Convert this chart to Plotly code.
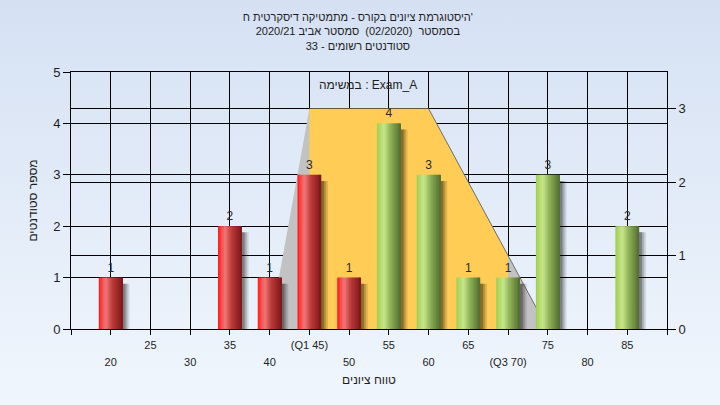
import base64
import plotly.graph_objects as go

# ---------------- data ----------------
categories = [20, 25, 30, 35, 40, 45, 50, 55, 60, 65, 70, 75, 80, 85]
counts = [1, 0, 0, 2, 1, 3, 1, 4, 3, 1, 1, 3, 0, 2]
tick_labels = ["20", "25", "30", "35", "40", "(Q1 45)", "50", "55", "60", "65",
               "(Q3 70)", "75", "80", "85"]
q1, q3 = 45, 70
pass_from = 55
dist_x = [40, 45, 50, 55, 60, 65, 70, 75]
dist_y = [0, 3, 3, 3, 3, 2, 1, 0]

title_lines = [
    "היסטוגרמת ציונים בקורס - מתמטיקה דיסקרטית ח'",
    "בסמסטר  (02/2020)  סמסטר אביב 2020/21",
    "סטודנטים רשומים - 33",
]
task_label = "במשימה : Exam_A"
x_title = "טווח ציונים"
y_title = "מספר סטודנטים"

FONT = "Arial, Liberation Sans, DejaVu Sans, sans-serif"
TXT = "#1e1e1e"

# ---------------- helpers ----------------
def interp(stops, t):
    for (t0, c0), (t1, c1) in zip(stops[:-1], stops[1:]):
        if t0 <= t <= t1:
            f = (t - t0) / (t1 - t0) if t1 > t0 else 0
            c = [round(a + (b - a) * f) for a, b in zip(c0, c1)]
            return "rgb(%d,%d,%d)" % tuple(c)
    c = stops[-1][1]
    return "rgb(%d,%d,%d)" % tuple(c)

red_stops = [(0.0, (255, 20, 20)), (0.12, (250, 70, 70)), (0.3, (238, 120, 120)),
             (0.55, (190, 60, 60)), (1.0, (125, 22, 22))]
green_stops = [(0.0, (160, 205, 80)), (0.12, (178, 216, 105)), (0.3, (200, 230, 140)),
               (0.55, (145, 180, 90)), (1.0, (82, 108, 48))]

nz = [(c, v) for c, v in zip(categories, counts) if v > 0]
bx = [c for c, _ in nz]
by = [v for _, v in nz]

fig = go.Figure()

# distribution area (right axis, base subplot)
fig.add_trace(go.Scatter(x=dist_x, y=dist_y, mode="lines", line=dict(width=0, color="rgba(0,0,0,0)"),
                         fill="tozeroy", fillcolor="#c2c2c2", hoverinfo="skip", showlegend=False))
iq = [(x, y) for x, y in zip(dist_x, dist_y) if q1 <= x <= q3]
fig.add_trace(go.Scatter(x=[p[0] for p in iq], y=[p[1] for p in iq], mode="lines",
                         line=dict(width=0, color="rgba(0,0,0,0)"),
                         fill="tozeroy", fillcolor="#ffcc55", hoverinfo="skip", showlegend=False))
peak = max(dist_y)
last_peak = max(x for x, y in zip(dist_x, dist_y) if y == peak)
desc = [(x, y) for x, y in zip(dist_x, dist_y) if x >= last_peak]
fig.add_trace(go.Scatter(x=[p[0] for p in desc], y=[p[1] for p in desc], mode="lines",
                         line=dict(width=1, color="#6e6e6e"), hoverinfo="skip", showlegend=False))

# bars (left axis, overlay subplot)
W = 3.0
for d, a in [(0.85, 0.12), (0.6, 0.18), (0.35, 0.26)]:
    fig.add_trace(go.Bar(x=bx, y=[v - 0.12 for v in by], width=W, offset=-W / 2 + d,
                         marker=dict(color="rgba(0,0,0,%.2f)" % a, line=dict(width=0)),
                         yaxis="y2", hoverinfo="skip", showlegend=False))
N = 16
for k in range(N):
    t = (k + 0.5) / N
    cols = [interp(red_stops, t) if c < pass_from else interp(green_stops, t) for c in bx]
    w = W / N * (1.6 if k < N - 1 else 1.0)
    fig.add_trace(go.Bar(x=bx, y=by, width=w, offset=-W / 2 + k * W / N,
                         marker=dict(color=cols, line=dict(width=0)),
                         yaxis="y2", hoverinfo="skip", showlegend=False))

fig.add_trace(go.Scatter(x=bx, y=[v + 0.06 for v in by], mode="text", text=[str(v) for v in by],
                         textposition="top center", textfont=dict(size=12, color="#2a2a2a", family=FONT),
                         yaxis="y2", hoverinfo="skip", showlegend=False))

# lower tick-label row on a helper axis
fig.add_trace(go.Scatter(x=[categories[0]], y=[0], mode="markers", marker=dict(opacity=0),
                         xaxis="x2", yaxis="y2", hoverinfo="skip", showlegend=False))

# ---------------- background ----------------
svg = ('<svg xmlns="http://www.w3.org/2000/svg" width="720" height="405">'
       '<defs><linearGradient id="g" x1="0" y1="0" x2="0" y2="1">'
       '<stop offset="0" stop-color="#d5e1f3"/><stop offset="1" stop-color="#f0f6fd"/>'
       '</linearGradient></defs><rect width="720" height="405" fill="url(#g)"/></svg>')
src = "data:image/svg+xml;base64," + base64.b64encode(svg.encode()).decode()

L, R, T, B = 71, 53, 72, 76
PW, PH = 720 - L - R, 405 - T - B

lower_vals = [c for i, c in enumerate(categories) if i % 2 == 0]
lower_text = [t for i, t in enumerate(tick_labels) if i % 2 == 0]
xmin, xmax = categories[0] - 5, categories[-1] + 5

fig.update_layout(
    width=720, height=405,
    margin=dict(l=L, r=R, t=T, b=B),
    paper_bgcolor="#e4edf8",
    plot_bgcolor="#b3b3b3",
    barmode="overlay",
    showlegend=False,
    font=dict(family=FONT, color=TXT, size=12),
    images=[dict(source=src, xref="paper", yref="paper", x=-L / PW, y=1 + T / PH,
                 sizex=720 / PW, sizey=405 / PH, sizing="stretch", layer="below",
                 xanchor="left", yanchor="top")],
    title=dict(text="<br>".join(title_lines), x=0.497, xanchor="center", y=1 - 21 / 405,
               yanchor="top", font=dict(size=11, color=TXT, family=FONT)),
    xaxis=dict(range=[xmin, xmax], tickmode="array",
               tickvals=[xmin] + categories + [xmax],
               ticktext=[""] + [t if i % 2 == 1 else "" for i, t in enumerate(tick_labels)] + [""],
               ticks="outside", ticklen=5, tickcolor="black", showline=True, linecolor="black",
               mirror=True, showgrid=True, gridcolor="black", gridwidth=1, zeroline=False,
               tickfont=dict(size=11, color=TXT), ticklabelstandoff=1,
               title=dict(text=x_title, font=dict(size=12, color=TXT), standoff=25)),
    xaxis2=dict(range=[xmin, xmax], overlaying="x", side="bottom", anchor="y", tickmode="array",
                tickvals=lower_vals, ticktext=lower_text, ticks="", showgrid=False, showline=False,
                zeroline=False, tickfont=dict(size=11, color=TXT), ticklabelstandoff=25),
    yaxis=dict(range=[0, 3.5], side="right", tickvals=[0, 1, 2, 3], ticks="outside", ticklen=8,
               tickcolor="black", showline=True, linecolor="black", showgrid=True, gridcolor="black",
               zeroline=False, tickfont=dict(size=13, color=TXT)),
    yaxis2=dict(range=[0, 5], side="left", overlaying="y", tickvals=[0, 1, 2, 3, 4, 5], ticks="outside",
                ticklen=7, tickcolor="black", showline=True, linecolor="black", showgrid=True,
                gridcolor="black", zeroline=False, tickfont=dict(size=13, color=TXT),
                title=dict(text=y_title, font=dict(size=12, color=TXT), standoff=12)),
    annotations=[dict(text=task_label, x=(368 - L) / PW, y=(405 - B - 85) / PH, xref="paper", yref="paper",
                      xanchor="center", yanchor="middle", showarrow=False,
                      font=dict(size=12, color=TXT, family=FONT))],
)

fig.write_html("out.html", config={"displayModeBar": False},
               post_script="document.body.style.margin='0';")
